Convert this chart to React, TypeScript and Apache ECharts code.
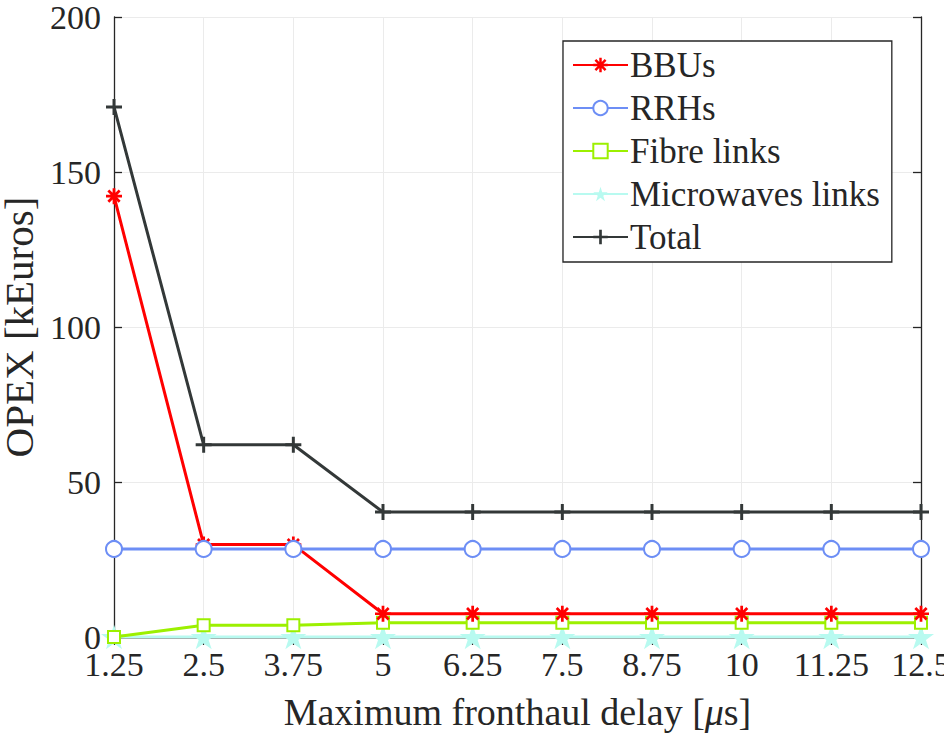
import React, { useEffect, useRef } from "react";
import * as echarts from "echarts";

const delays = [1.25, 2.5, 3.75, 5, 6.25, 7.5, 8.75, 10, 11.25, 12.5];
const bbus = [142.2, 29.8, 29.8, 7.5, 7.5, 7.5, 7.5, 7.5, 7.5, 7.5];
const rrhs = [28.4, 28.4, 28.4, 28.4, 28.4, 28.4, 28.4, 28.4, 28.4, 28.4];
const fibre = [0, 3.8, 3.8, 4.6, 4.6, 4.6, 4.6, 4.6, 4.6, 4.6];
const microwaves = [0, 0, 0, 0, 0, 0, 0, 0, 0, 0];
const total = [171.0, 62.0, 62.0, 40.3, 40.3, 40.3, 40.3, 40.3, 40.3, 40.3];
const yTicks = [0, 50, 100, 150, 200];

const FONT = "'Liberation Serif', 'DejaVu Serif', serif";
const TXT = "#262626";

const ASTERISK =
  "path://M7,1.2 L7,-1.2 L-7,-1.2 L-7,1.2 Z M-1.2,7 L1.2,7 L1.2,-7 L-1.2,-7 Z M4.101,5.799 L5.799,4.101 L-4.101,-5.799 L-5.799,-4.101 Z M5.799,-4.101 L4.101,-5.799 L-5.799,4.101 L-4.101,5.799 Z";
const PLUS =
  "path://M-1.3,-7 L1.3,-7 L1.3,-1.3 L7,-1.3 L7,1.3 L1.3,1.3 L1.3,7 L-1.3,7 L-1.3,1.3 L-7,1.3 L-7,-1.3 L-1.3,-1.3 Z";
const STAR =
  "path://M0,-100 L22.45,-30.9 L95.1,-30.9 L36.3,11.8 L58.8,80.9 L0,38.2 L-58.8,80.9 L-36.3,11.8 L-95.1,-30.9 L-22.45,-30.9 Z";

function pairs(vals: number[]) {
  return delays.map((d, i) => [d, vals[i]]);
}

export default function App() {
  const ref = useRef<HTMLDivElement>(null);
  useEffect(() => {
    if (!ref.current) return;
    const chart = echarts.init(ref.current, undefined, { renderer: "svg" });
    const axisLine = { show: true, lineStyle: { color: TXT, width: 1.3 } };
    const tick = { show: true, inside: true, length: 8, lineStyle: { color: TXT, width: 1.3 } };
    chart.setOption({
      animation: false,
      backgroundColor: "#fff",
      grid: { left: 114, right: 23, top: 17, bottom: 99, containLabel: false, outerBoundsMode: "none" },
      legend: {
        orient: "vertical",
        left: 563,
        top: 41,
        backgroundColor: "#fff",
        borderColor: TXT,
        borderWidth: 1.3,
        borderRadius: 0,
        padding: [6, 12, 7, 9],
        itemWidth: 55,
        itemHeight: 18,
        itemGap: 7,
        textStyle: { fontFamily: FONT, fontSize: 35, color: TXT, lineHeight: 36, padding: [0, 0, 0, -3] },
        data: ["BBUs", "RRHs", "Fibre links", "Microwaves links", "Total"],
      },
      xAxis: [
        {
          type: "value",
          min: 1.25,
          max: 12.5,
          interval: 1.25,
          position: "bottom",
          axisLine,
          axisTick: tick,
          axisLabel: { fontFamily: FONT, fontSize: 34, color: TXT, margin: 10 },
          splitLine: { show: true, lineStyle: { color: "#ebebeb", width: 1 } },
          name: "Maximum fronthaul delay [{i|μ}s]",
          nameLocation: "middle",
          nameGap: 56,
          nameTextStyle: {
            fontFamily: FONT,
            fontSize: 38,
            color: TXT,
            rich: { i: { fontFamily: FONT, fontStyle: "italic", fontSize: 38, color: TXT } },
          },
        },
        {
          type: "value",
          min: 1.25,
          max: 12.5,
          interval: 1.25,
          position: "top",
          axisLine,
          axisTick: tick,
          axisLabel: { show: false },
          splitLine: { show: false },
        },
      ],
      yAxis: [
        {
          type: "value",
          min: 0,
          max: 200,
          interval: 50,
          position: "left",
          axisLine,
          axisTick: tick,
          axisLabel: {
            fontFamily: FONT,
            fontSize: 34,
            color: TXT,
            margin: 13,
            formatter: (v: number) => (yTicks.includes(v) ? String(v) : ""),
          },
          splitLine: { show: true, lineStyle: { color: "#ebebeb", width: 1 } },
          name: "OPEX [kEuros]",
          nameLocation: "middle",
          nameGap: 75,
          nameTextStyle: { fontFamily: FONT, fontSize: 41, color: TXT },
        },
        {
          type: "value",
          min: 0,
          max: 200,
          interval: 50,
          position: "right",
          axisLine,
          axisTick: tick,
          axisLabel: { show: false },
          splitLine: { show: false },
        },
      ],
      series: [
        {
          name: "Microwaves links",
          type: "line",
          data: pairs(microwaves),
          symbol: STAR,
          symbolSize: 26,
          symbolKeepAspect: true,
          lineStyle: { color: "#b8faf0", width: 3 },
          itemStyle: { color: "#b8faf0" },
          z: 2,
        },
        {
          name: "Fibre links",
          type: "line",
          data: pairs(fibre),
          symbol: "emptyRect",
          symbolSize: 12,
          lineStyle: { color: "#9cf000", width: 3 },
          itemStyle: { color: "#9cf000", borderWidth: 2.5 },
          z: 3,
        },
        {
          name: "RRHs",
          type: "line",
          data: pairs(rrhs),
          symbol: "emptyCircle",
          symbolSize: 16,
          lineStyle: { color: "#6d8ef5", width: 3 },
          itemStyle: { color: "#6d8ef5", borderWidth: 2.8 },
          z: 4,
        },
        {
          name: "BBUs",
          type: "line",
          data: pairs(bbus),
          symbol: ASTERISK,
          symbolSize: 16,
          symbolKeepAspect: true,
          lineStyle: { color: "#ff0000", width: 3 },
          itemStyle: { color: "#ff0000" },
          z: 3,
        },
        {
          name: "Total",
          type: "line",
          data: pairs(total),
          symbol: PLUS,
          symbolSize: 16,
          symbolKeepAspect: true,
          lineStyle: { color: "#333838", width: 3 },
          itemStyle: { color: "#333838" },
          z: 5,
        },
      ],
    });
    return () => chart.dispose();
  }, []);
  return <div ref={ref} style={{ width: 944, height: 736, position: "absolute", left: 0, top: 0 }} />;
}
